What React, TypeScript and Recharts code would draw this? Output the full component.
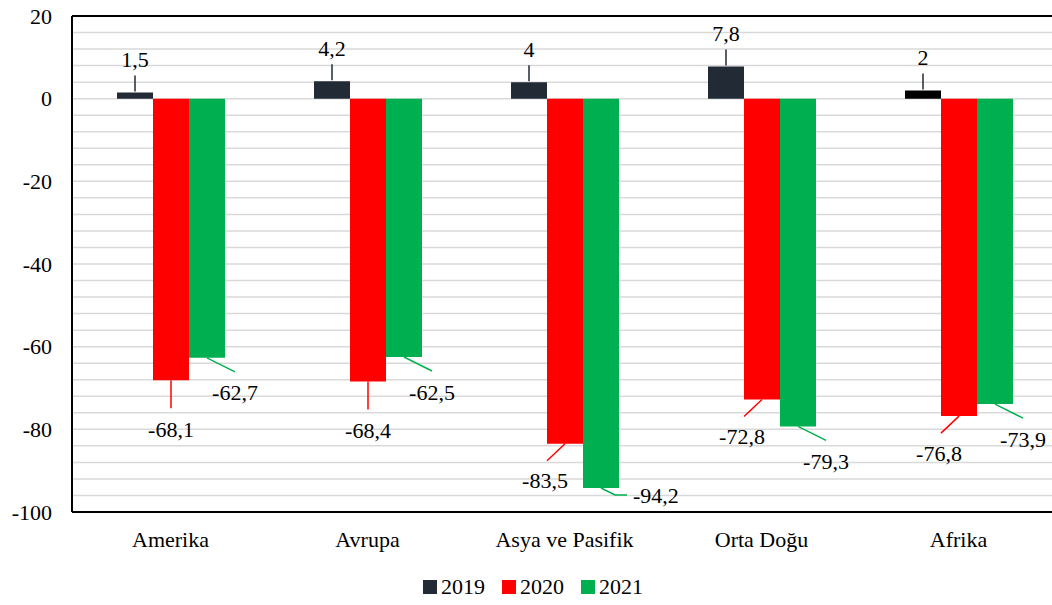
import { BarChart, Bar, XAxis, YAxis, CartesianGrid, Legend, LabelList, Cell, ReferenceLine } from 'recharts';

const regions = ['Amerika', 'Avrupa', 'Asya ve Pasifik', 'Orta Doğu', 'Afrika'];
const values2019 = [1.5, 4.2, 4, 7.8, 2];
const values2020 = [-68.1, -68.4, -83.5, -72.8, -76.8];
const values2021 = [-62.7, -62.5, -94.2, -79.3, -73.9];
const yTicks = [-100, -80, -60, -40, -20, 0, 20];
const gridValues = [-96, -92, -88, -84, -80, -76, -72, -68, -64, -60, -56, -52, -48, -44, -40, -36, -32, -28, -24, -20, -16, -12, -8, -4, 0, 4, 8, 12, 16];

const data = regions.map((name, i) => ({
  name,
  y2019: values2019[i],
  y2020: values2020[i],
  y2021: values2021[i],
}));

const FONT = "'Liberation Serif', 'Times New Roman', Times, 'Nimbus Roman', 'Noto Serif', FreeSerif, 'DejaVu Serif', serif";
const C2019 = '#222a35';
const C2020 = '#ff0000';
const C2021 = '#00b050';

const fmt = (v: number) => String(v).replace('.', ',');

// label with leader line; kind decides direction
function makeLabel(kind: 'up' | 'red' | 'green', color: string) {
  return (props: any) => {
    const { x, y, width, height, value, index } = props;
    const top = Math.min(y, y + height);
    const bottom = Math.max(y, y + height);
    const cx = x + width / 2;
    let line = '';
    let tx = cx;
    let ty = 0;
    let anchor: 'middle' | 'start' = 'middle';
    if (kind === 'up') {
      line = `M${cx},${top - 1} L${cx},${top - 17}`;
      ty = top - 33;
    } else if (kind === 'red') {
      if (index < 2) {
        line = `M${cx},${bottom} L${cx},${bottom + 28}`;
        ty = bottom + 49;
      } else {
        line = `M${cx},${bottom} L${cx - 18},${bottom + 17}`;
        tx = cx - 20;
        ty = bottom + 37;
      }
    } else {
      if (index === 2) {
        line = `M${cx},${bottom} L${cx + 14},${bottom + 7} L${cx + 26},${bottom + 7}`;
        tx = cx + 32;
        ty = bottom + 7;
        anchor = 'start';
      } else {
        line = `M${cx},${bottom} L${cx + 28},${bottom + 14}`;
        tx = cx + 28;
        ty = bottom + 35;
      }
    }
    return (
      <g>
        <path d={line} stroke={kind === 'up' ? '#222a35' : color} strokeWidth={1.5} fill="none" />
        <text x={tx} y={ty} textAnchor={anchor} dominantBaseline="central" style={{ fontFamily: FONT }} fontSize={22} fill="#000">
          {fmt(value)}
        </text>
      </g>
    );
  };
}

const legendItems = [
  { label: '2019', color: C2019 },
  { label: '2020', color: C2020 },
  { label: '2021', color: C2021 },
];

function LegendBox() {
  return (
    <div style={{ height: 36, display: 'flex', justifyContent: 'center', alignItems: 'flex-end', paddingLeft: 26, fontFamily: FONT, fontSize: 22, lineHeight: '22px', color: '#000' }}>
      {legendItems.map((it) => (
        <div key={it.label} style={{ display: 'flex', alignItems: 'center', marginRight: 17 }}>
          <span style={{ width: 14, height: 14, background: it.color, display: 'inline-block', marginRight: 4 }} />
          <span>{it.label}</span>
        </div>
      ))}
    </div>
  );
}

const tickStyle = { fontSize: 22, fill: '#000', style: { fontFamily: FONT } };

export default function App() {
  return (
    <div style={{ position: 'absolute', left: 0, top: 0, width: 1052, height: 605, overflow: 'hidden', background: '#fff', fontFamily: FONT }}>
      <BarChart width={1060} height={605} data={data} margin={{ top: 16, right: 3, bottom: 7, left: 0 }} barGap={0} barSize={36} style={{ fontFamily: FONT }}>
        <CartesianGrid
          vertical={false}
          stroke="#d9d9d9"
          strokeWidth={1.5}
          horizontalCoordinatesGenerator={({ offset }: any) =>
            gridValues.map((v) => offset.top + (offset.height * (20 - v)) / 120)
          }
        />
        <XAxis
          dataKey="name"
          height={50}
          tickLine={false}
          tickSize={6}
          tickMargin={13}
          axisLine={{ stroke: '#000', strokeWidth: 2 }}
          tick={tickStyle}
          interval={0}
        />
        <YAxis
          width={72}
          domain={[-100, 20]}
          ticks={yTicks}
          tickLine={false}
          tickSize={6}
          tickMargin={14}
          axisLine={{ stroke: '#000', strokeWidth: 2 }}
          tick={tickStyle}
          allowDataOverflow
        />
        <ReferenceLine y={20} stroke="#000" strokeWidth={2} />
        <Legend verticalAlign="bottom" content={() => <LegendBox />} />
        <Bar dataKey="y2019" fill={C2019} isAnimationActive={false}>
          {data.map((d, i) => (
            <Cell key={d.name} fill={i === 4 ? '#000000' : C2019} />
          ))}
          <LabelList dataKey="y2019" content={makeLabel('up', C2019)} />
        </Bar>
        <Bar dataKey="y2020" fill={C2020} isAnimationActive={false}>
          <LabelList dataKey="y2020" content={makeLabel('red', C2020)} />
        </Bar>
        <Bar dataKey="y2021" fill={C2021} isAnimationActive={false}>
          <LabelList dataKey="y2021" content={makeLabel('green', C2021)} />
        </Bar>
      </BarChart>
    </div>
  );
}
